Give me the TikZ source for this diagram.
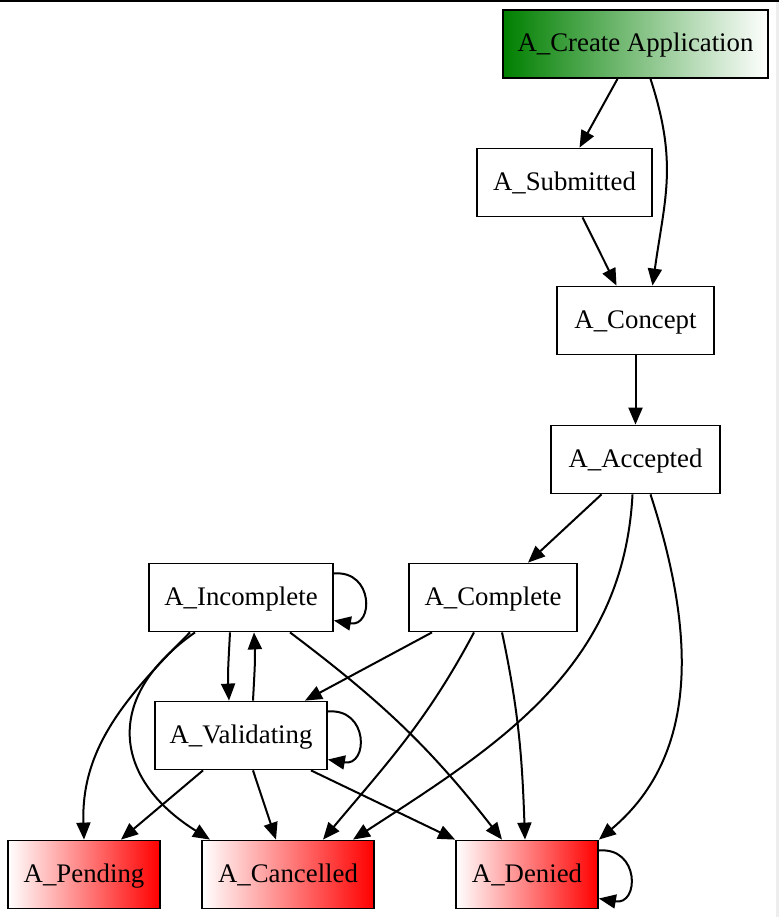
\documentclass[tikz,border=0pt]{standalone}
\usepackage{fontspec}
\setmainfont{Liberation Serif}
\usetikzlibrary{arrows.meta}

\begin{document}
\begin{tikzpicture}
[every node/.style={inner sep=0pt, font=\fontsize{26.8pt}{30pt}\selectfont},
 state/.style={rectangle, minimum height=68pt, text height=22pt, text depth=6pt, line width=1.8pt, draw=black, fill=white},
 startstate/.style={state, left color=green!50!black, right color=white},
 endstate/.style={state, left color=white, right color=red},
 edge/.style={line width=2pt, -{Triangle[length=17pt, width=14pt]}, color=black}]
\useasboundingbox (0pt, 0pt) rectangle (779pt, -917pt);
\fill [black] (0pt, 0pt) rectangle (779pt, -2.5pt);
\fill [black!7] (776pt, -2.5pt) rectangle (779pt, -917pt);
\node (create) [startstate, minimum width=265pt] at (635.5pt, -44pt) {A\_Create Application};
\node (submitted) [state, minimum width=175pt] at (564.5pt, -182.5pt) {A\_Submitted};
\node (concept) [state, minimum width=157pt] at (635.5pt, -320.5pt) {A\_Concept};
\node (accepted) [state, minimum width=169pt] at (635.5pt, -459.5pt) {A\_Accepted};
\node (incomplete) [state, minimum width=184pt] at (241pt, -597.5pt) {A\_Incomplete};
\node (complete) [state, minimum width=168pt] at (493pt, -597.5pt) {A\_Complete};
\node (validating) [state, minimum width=172pt] at (241pt, -735.5pt) {A\_Validating};
\node (pending) [endstate, minimum width=152pt] at (84pt, -874.5pt) {A\_Pending};
\node (cancelled) [endstate, minimum width=172pt] at (288pt, -874.5pt) {A\_Cancelled};
\node (denied) [endstate, minimum width=142pt] at (527pt, -874.5pt) {A\_Denied};
\draw [edge] ([xshift=-18pt]create.south) to ([xshift=15pt]submitted.north);
\draw [edge] ([xshift=15pt]create.south) to [out=-72, in=82, looseness=1.1] ([xshift=17pt]concept.north);
\draw [edge] ([xshift=18pt]submitted.south) to ([xshift=-19pt]concept.north);
\draw [edge] (concept) to (accepted);
\draw [edge] ([xshift=-34pt]accepted.south) to ([xshift=35pt]complete.north);
\draw [edge] ([xshift=-3pt]accepted.south) to [out=-93, in=33] ([xshift=65pt]cancelled.north);
\draw [edge] ([xshift=15pt]accepted.south) to [out=-72, in=40] (denied.north east);
\draw [edge] ([yshift=24pt]incomplete.east) to [out=5, in=-10, looseness=2.2] ([yshift=-23pt]incomplete.east);
\draw [edge] ([xshift=-11pt]incomplete.south) to [out=-93, in=93] ([xshift=-12pt]validating.north);
\draw [edge] ([xshift=12pt]validating.north) to [out=87, in=-87] ([xshift=13pt]incomplete.south);
\draw [edge] ([xshift=-51pt]incomplete.south) to [out=-135, in=92] (pending.north);
\draw [edge] ([xshift=-46pt]incomplete.south) to [out=-145, in=148, looseness=1.4] ([xshift=-78pt]cancelled.north);
\draw [edge] ([xshift=49pt]incomplete.south) to [out=-37, in=128] ([xshift=-25pt]denied.north);
\draw [edge] ([xshift=-61pt]complete.south) to ([xshift=64pt]validating.north);
\draw [edge] ([xshift=-19pt]complete.south) to [out=-118, in=50] ([xshift=35pt]cancelled.north);
\draw [edge] ([xshift=9pt]complete.south) to [out=-78, in=92] ([xshift=-2pt]denied.north);
\draw [edge] ([xshift=-38pt]validating.south) to ([xshift=37pt]pending.north);
\draw [edge] ([xshift=12pt]validating.south) to ([xshift=-12pt]cancelled.north);
\draw [edge] ([xshift=70pt]validating.south) to (denied.north west);
\draw [edge] ([yshift=24pt]validating.east) to [out=5, in=-10, looseness=2.2] ([yshift=-24pt]validating.east);
\draw [edge] ([yshift=24pt]denied.east) to [out=5, in=-10, looseness=2.2] ([yshift=-24pt]denied.east);
\end{tikzpicture}
\end{document}
